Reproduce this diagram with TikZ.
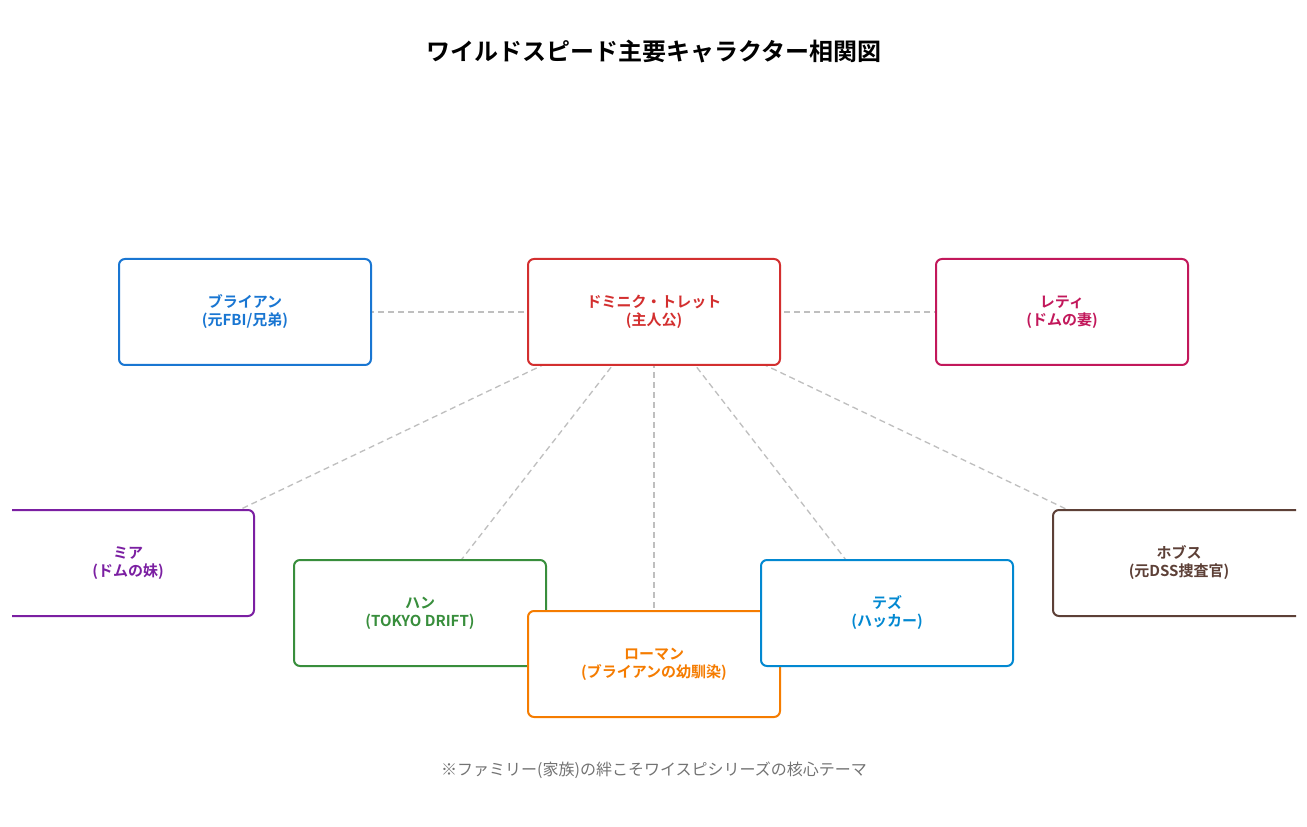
\documentclass[tikz,border=0pt]{standalone}
\usepackage{fontspec}
\setmainfont{Noto Sans CJK JP}[BoldFont={Noto Sans CJK JP Bold}]
\begin{document}
\begin{tikzpicture}[x=0.75pt,y=-0.75pt,
  box/.style={draw=#1,text=#1,fill=white,line width=1.5pt,rounded corners=4.5pt,
    minimum width=189pt,minimum height=79.5pt,align=center,inner sep=0pt,
    font=\fontsize{11.25}{13.5}\selectfont\bfseries},
  link/.style={draw=black!25,dashed,line width=1pt,dash pattern=on 4.5pt off 3pt}]
\definecolor{cbrian}{HTML}{1976D2}\definecolor{cdom}{HTML}{D32F2F}
\definecolor{cletty}{HTML}{C2185B}\definecolor{cmia}{HTML}{7B1FA2}
\definecolor{chan}{HTML}{388E3C}\definecolor{croman}{HTML}{F57C00}
\definecolor{ctez}{HTML}{0288D1}\definecolor{chobbs}{HTML}{5D4037}
\useasboundingbox (0,0) rectangle (1307,827);
\node[font=\fontsize{18}{22}\selectfont\bfseries] (title) at (654,52) {ワイルドスピード主要キャラクター相関図};
\begin{scope}
\clip (12,0) rectangle (1296,827);
\coordinate (cDom) at (654,312);
\coordinate (cBrian) at (245,312);
\coordinate (cLetty) at (1062,312);
\coordinate (cMia) at (128,563);
\coordinate (cHan) at (420,613);
\coordinate (cRoman) at (654,664);
\coordinate (cTez) at (887,613);
\coordinate (cHobbs) at (1179,563);
\foreach \t in {cBrian,cLetty,cMia,cHan,cRoman,cTez,cHobbs} \draw[link] (cDom) -- (\t);
\node[box=cbrian] (brian) at (cBrian) {ブライアン\\(元FBI/兄弟)};
\node[box=cdom] (dom) at (cDom) {ドミニク・トレット\\(主人公)};
\node[box=cletty] (letty) at (cLetty) {レティ\\(ドムの妻)};
\node[box=cmia] (mia) at (cMia) {ミア\\(ドムの妹)};
\node[box=chan] (han) at (cHan) {ハン\\(TOKYO DRIFT)};
\node[box=croman] (roman) at (cRoman) {ローマン\\(ブライアンの幼馴染)};
\node[box=ctez] (tez) at (cTez) {テズ\\(ハッカー)};
\node[box=chobbs] (hobbs) at (cHobbs) {ホブス\\(元DSS捜査官)};
\end{scope}
\node[text=black!55,font=\fontsize{12}{14}\selectfont] (note) at (654,770) {※ファミリー(家族)の絆こそワイスピシリーズの核心テーマ};
\end{tikzpicture}
\end{document}
